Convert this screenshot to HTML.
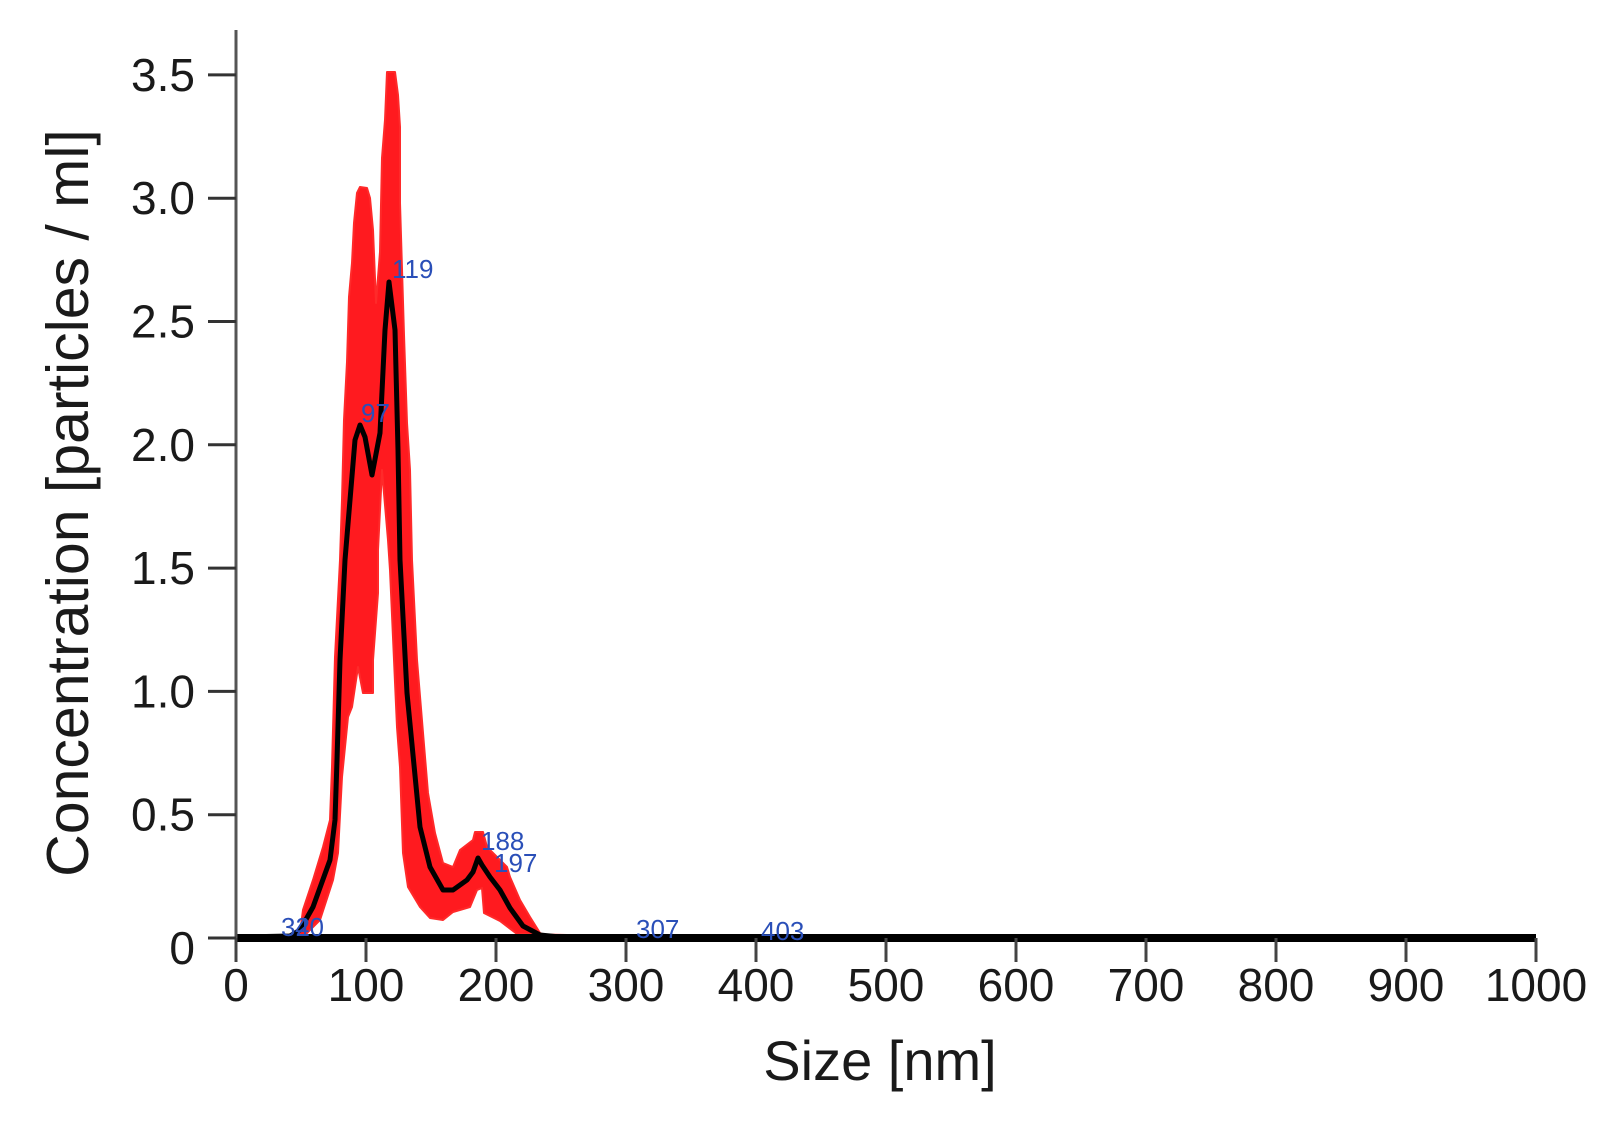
<!DOCTYPE html>
<html><head><meta charset="utf-8"><style>
html,body{margin:0;padding:0;background:#fff;}
svg{display:block;}
text{font-family:"Liberation Sans","DejaVu Sans",sans-serif;}
</style></head><body>
<svg id="s" width="1600" height="1122" viewBox="0 0 1600 1122" xmlns="http://www.w3.org/2000/svg">
<g id="band">
<path fill="#ff1a1f" stroke="#ff2a2a" stroke-width="2" stroke-linejoin="round" d="M270,938 L300,933 L303,910 L313,880 L323,847 L330,820 L332,767 L335,657 L340,560 L342,500 L344,420 L347,362 L349,297 L352,263 L354,223 L357,193 L360,187 L367,188 L370,198 L373,230 L376,303 L380,252 L382,158 L385,120 L387,72 L395,72 L398,95 L400,127 L400,203 L404,335 L407,423 L410,470 L412,560 L417,660 L423,733 L428,793 L435,833 L443,863 L453,867 L460,850 L473,840 L475,832 L483,832 L487,847 L507,867 L510,877 L520,900 L530,917 L540,933 L550,937 L820,937 L820,940 L517,934 L500,921 L484,913 L482,888 L477,890 L470,907 L453,912 L443,920 L430,918 L420,907 L408,887 L403,853 L400,767 L397,727 L390,570 L388,540 L382,470 L378,550 L378,593 L373,660 L373,693 L363,693 L358,667 L352,707 L348,717 L342,777 L338,853 L333,880 L320,920 L300,940 Z"/>
<line x1="236" y1="938" x2="1536" y2="938" stroke="#000" stroke-width="8"/>
<path fill="none" stroke="#000" stroke-width="5" stroke-linejoin="round" d="M240,937 L290,936 L300,930 L313,907 L330,860 L335,820 L337,760 L340,660 L345,560 L350,500 L355,440 L360,425 L365,437 L372,475 L380,433 L385,330 L389,282 L395,330 L398,450 L400,560 L407,693 L420,827 L430,867 L443,890 L453,890 L467,880 L473,872 L478,858 L482,865 L490,877 L500,890 L510,908 L523,926 L540,935 L560,937"/>
</g>
<line x1="236" y1="30" x2="236" y2="940" stroke="#555" stroke-width="3"/>
<g id="ticks"></g>
<g id="labels" font-size="46" fill="#1a1a1a"></g>
<text x="880" y="1080" font-size="56" text-anchor="middle" fill="#1a1a1a">Size [nm]</text>
<text transform="translate(88,503) rotate(-90)" font-size="59" text-anchor="middle" fill="#1a1a1a">Concentration [particles / ml]</text>
<g font-size="26" fill="#2a4fb8">
<text x="392" y="278">119</text>
<text x="361" y="422">97</text>
<text x="481" y="850">188</text>
<text x="494" y="872">197</text>
<text x="636" y="938">307</text>
<text x="761" y="940">403</text>
<text x="281" y="936">32</text>
<text x="295" y="936">40</text>
</g>
</svg>
<script>
var X=function(n){return 236+1.3*n},Y=function(v){return 938-246.6*v};
var ns="http://www.w3.org/2000/svg";
function el(t,a,parent){var e=document.createElementNS(ns,t);for(var k in a)e.setAttribute(k,a[k]);parent.appendChild(e);return e;}
var tk=document.getElementById("ticks"),lb=document.getElementById("labels");
for(var i=0;i<=10;i++){var x=X(i*100);el("line",{x1:x,y1:938,x2:x,y2:962,stroke:"#444","stroke-width":"3"},tk);
 var t=el("text",{x:x,y:1001,"text-anchor":"middle"},lb);t.textContent=String(i*100);}
var yl=["0","0.5","1.0","1.5","2.0","2.5","3.0","3.5"];
for(var j=0;j<8;j++){var y=Y(j*0.5);el("line",{x1:208,y1:y,x2:236,y2:y,stroke:"#333","stroke-width":"3"},tk);
 var t2=el("text",{x:195,y:y+(j==0?26:16),"text-anchor":"end"},lb);t2.textContent=yl[j];}
</script>
</body></html>
